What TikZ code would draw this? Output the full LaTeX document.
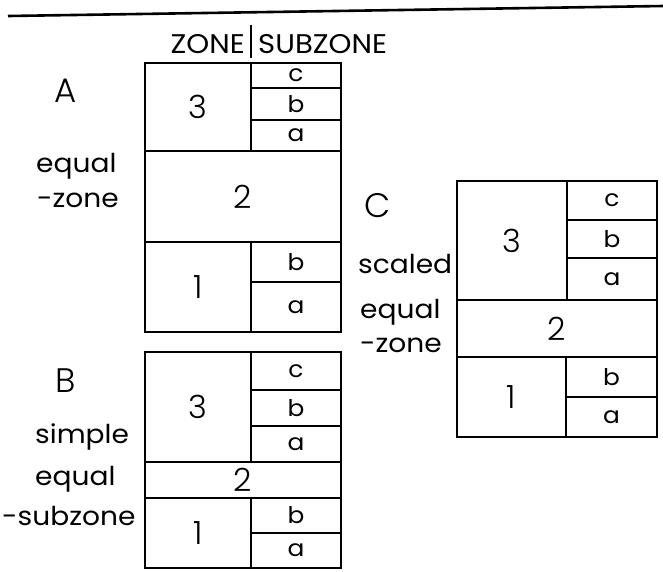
\documentclass[tikz,border=0pt]{standalone}
\usepackage{fontspec}
\setmainfont{Poppins}[FakeStretch=1.08]
\newfontfamily\lightface{Poppins}[UprightFont={* Light}]
\begin{document}
\begin{tikzpicture}[x=1pt,y=-1pt,
  rule/.style={line width=1.6pt},
  cellbox/.style={draw, rule, inner sep=0pt, outer sep=0pt},
  zonecell/.style={cellbox, font=\lightface\fontsize{32}{32}\selectfont},
  subcell/.style={cellbox, font=\fontsize{23}{23}\selectfont},
  caption/.style={inner sep=0pt, anchor=base west, font=\fontsize{26}{26}\selectfont},
  bigletter/.style={inner sep=0pt, anchor=base, font=\lightface\fontsize{34}{34}\selectfont},
  header/.style={inner sep=0pt, font=\fontsize{27}{27}\selectfont}]
\newcommand\zcell[7]{\node[#1, minimum width={(#5)-(#3)}, minimum height={(#6)-(#4)}] (#2) at ({((#3)+(#5))/2},{((#4)+(#6))/2}) {#7};}
\useasboundingbox (0,0) rectangle (663,571);

% heavy rule across the top
\coordinate (ruleL) at (8,16);
\coordinate (ruleR) at (663,6);
\draw[line width=2.6pt] (ruleL) -- (ruleR);

% column header
\node[header, anchor=base east] (hzone) at (245,53) {ZONE};
\node[header, anchor=base west] (hsub) at (258,53) {SUBZONE};
\draw[line width=1.4pt] (251,25) -- (251,58);

% ---- A: equal-zone ----
\node[bigletter] (labA) at (66,102) {A};
\node[caption] (capA1) at (36,172) {equal};
\node[caption] (capA2) at (37,207) {-zone};
\zcell{zonecell}{A3}{145}{63}{251}{151}{3}
\zcell{subcell}{A3c}{251}{63}{341}{88}{c}
\zcell{subcell}{A3b}{251}{88}{341}{120}{b}
\zcell{subcell}{A3a}{251}{120}{341}{151}{a}
\zcell{zonecell}{A2}{145}{151}{341}{242}{2}
\zcell{zonecell}{A1}{145}{242}{251}{332}{1}
\zcell{subcell}{A1b}{251}{242}{341}{282}{b}
\zcell{subcell}{A1a}{251}{282}{341}{332}{a}

% ---- B: simple equal-subzone ----
\node[bigletter] (labB) at (66,392) {B};
\node[caption] (capB1) at (35,443) {simple};
\node[caption] (capB2) at (35,485) {equal};
\node[caption] (capB3) at (2,525) {-subzone};
\zcell{zonecell}{B3}{145}{352}{251}{462}{3}
\zcell{subcell}{B3c}{251}{352}{341}{390}{c}
\zcell{subcell}{B3b}{251}{390}{341}{426}{b}
\zcell{subcell}{B3a}{251}{426}{341}{462}{a}
\zcell{zonecell}{B2}{145}{462}{341}{498}{2}
\zcell{zonecell}{B1}{145}{498}{251}{568}{1}
\zcell{subcell}{B1b}{251}{498}{341}{533}{b}
\zcell{subcell}{B1a}{251}{533}{341}{568}{a}

% ---- C: scaled equal-zone ----
\node[bigletter] (labC) at (378,217) {C};
\node[caption] (capC1) at (358,273) {scaled};
\node[caption] (capC2) at (360,318) {equal};
\node[caption] (capC3) at (360,352) {-zone};
\zcell{zonecell}{C3}{457}{181}{567}{300}{3}
\zcell{subcell}{C3c}{567}{181}{657}{220}{c}
\zcell{subcell}{C3b}{567}{220}{657}{258}{b}
\zcell{subcell}{C3a}{567}{258}{657}{300}{a}
\zcell{zonecell}{C2}{457}{300}{657}{357}{2}
\zcell{zonecell}{C1}{457}{357}{566}{437}{1}
\zcell{subcell}{C1b}{566}{357}{657}{397}{b}
\zcell{subcell}{C1a}{566}{397}{657}{437}{a}
\end{tikzpicture}
\end{document}
